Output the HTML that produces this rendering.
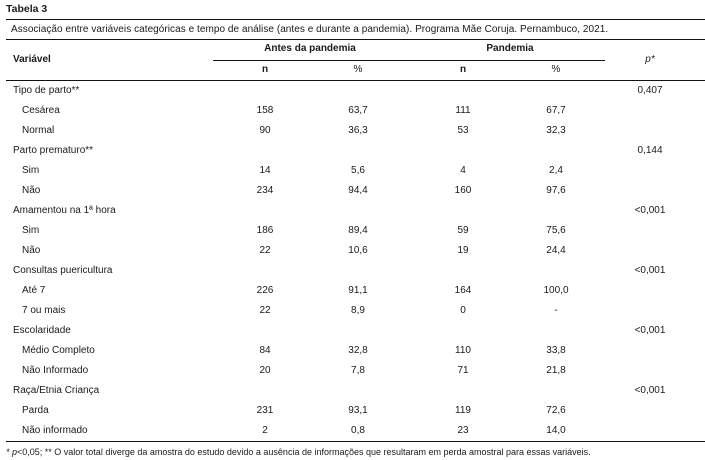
<!DOCTYPE html>
<html><head><meta charset="utf-8"><style>
body{margin:0;width:705px;height:460px;background:#fff;position:relative;overflow:hidden;font-family:"Liberation Sans",sans-serif;color:#1a1a1a}
.t{position:absolute;font-size:10px;white-space:nowrap;line-height:12px}
.c{transform:translateX(-50%)}
.b{font-weight:bold}
.ln{position:absolute;background:#111;height:1.3px}
</style></head><body>
<div class="t b" style="left:6px;top:3px;font-size:10.5px">Tabela 3</div>
<div class="ln" style="left:6px;width:699px;top:19px"></div>
<div class="t" style="left:11px;top:24px;letter-spacing:0.05px">Associação entre variáveis categóricas e tempo de análise (antes e durante a pandemia). Programa Mãe Coruja. Pernambuco, 2021.</div>
<div class="ln" style="left:6px;width:699px;top:39px"></div>
<div class="t b" style="left:13px;top:54px">Variável</div>
<div class="t b c" style="left:310px;top:43px">Antes da pandemia</div>
<div class="t b c" style="left:510px;top:43px">Pandemia</div>
<div class="ln" style="left:213px;width:392px;top:60px;height:1px"></div>
<div class="t c" style="left:650px;top:54px;font-style:italic">p*</div>
<div class="t b c" style="left:265px;top:64px">n</div>
<div class="t c" style="left:358px;top:64px">%</div>
<div class="t b c" style="left:463px;top:64px">n</div>
<div class="t c" style="left:556px;top:64px">%</div>
<div class="ln" style="left:6px;width:699px;top:80px"></div>
<div id="rows"></div>
<div class="ln" style="left:6px;width:699px;top:441px"></div>
<div class="t" style="left:6px;top:446px;font-size:9px"><i>* p</i>&lt;0,05; ** O valor total diverge da amostra do estudo devido a ausência de informações que resultaram em perda amostral para essas variáveis.</div>
<script>
const labels=["Tipo de parto**","Cesárea","Normal","Parto prematuro**","Sim","Não","Amamentou na 1ª hora","Sim","Não","Consultas puericultura","Até 7","7 ou mais","Escolaridade","Médio Completo","Não Informado","Raça/Etnia Criança","Parda","Não informado"];
const n1=["","158","90","","14","234","","186","22","","226","22","","84","20","","231","2"];
const p1=["","63,7","36,3","","5,6","94,4","","89,4","10,6","","91,1","8,9","","32,8","7,8","","93,1","0,8"];
const n2=["","111","53","","4","160","","59","19","","164","0","","110","71","","119","23"];
const p2=["","67,7","32,3","","2,4","97,6","","75,6","24,4","","100,0","-","","33,8","21,8","","72,6","14,0"];
const pv=["0,407","","","0,144","","","<0,001","","","<0,001","","","<0,001","","","<0,001","",""];
const R=document.getElementById('rows');
function cell(txt,x,y,center,name){
 const d=document.createElement('div');
 d.className='t'+(center?' c':'');
 d.style.left=x+'px';d.style.top=y+'px';
 d.textContent=txt;
 
 
 R.appendChild(d);
}
labels.forEach((l,i)=>{
 const y=85+i*20;
 const sub=n1[i]!=="";
 cell(l,sub?22:13,y,false,'row-label');
 if(sub){cell(n1[i],265,y,true,'cell-n-antes');cell(p1[i],358,y,true,'cell-pct-antes');cell(n2[i],463,y,true,'cell-n-pandemia');cell(p2[i],556,y,true,'cell-pct-pandemia');}
 if(pv[i])cell(pv[i],650,y,true,'cell-p-value');
});
</script>
</body></html>
